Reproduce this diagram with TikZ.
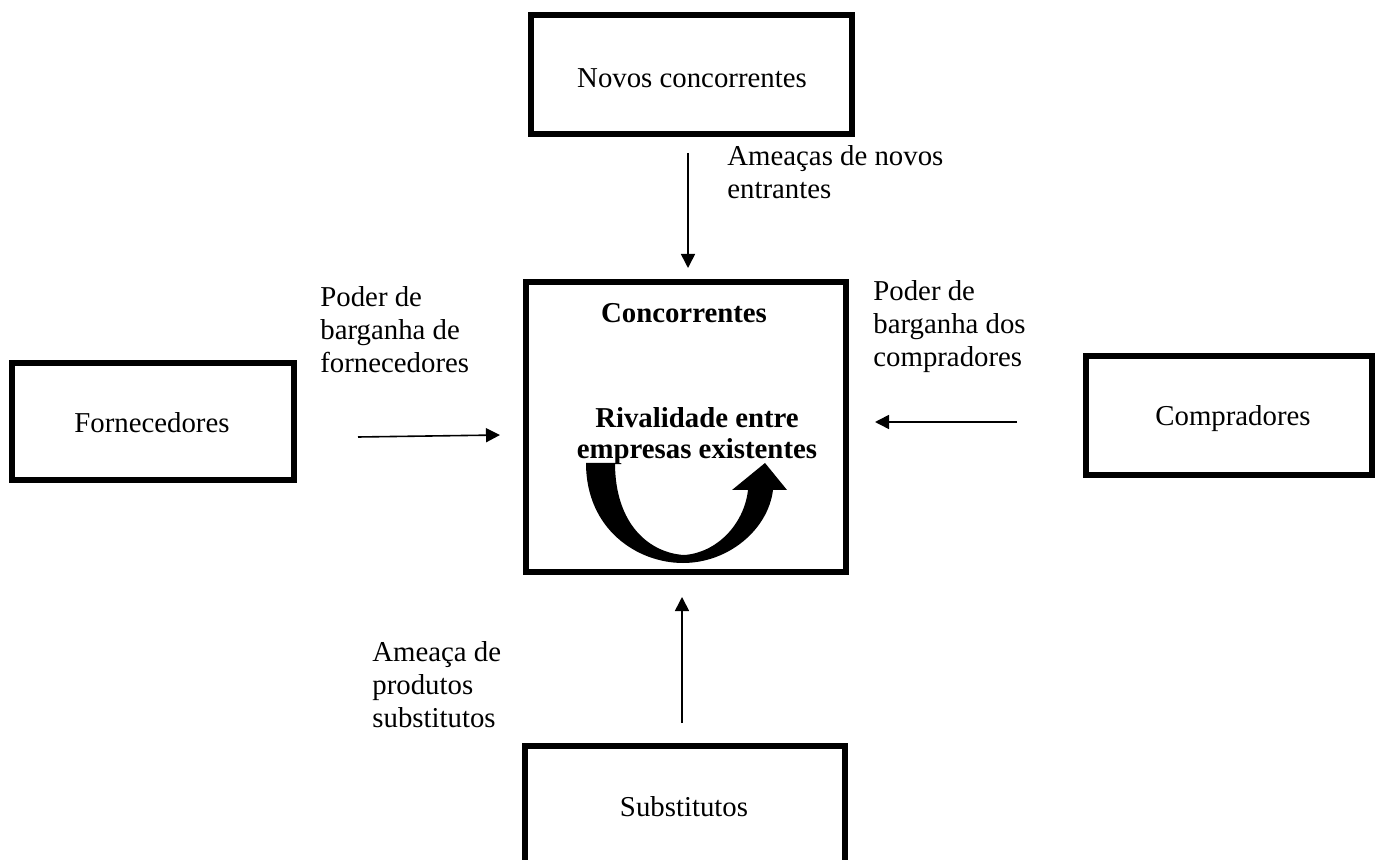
\documentclass[tikz,border=0pt]{standalone}
\usepackage{fontspec}
\setmainfont{Liberation Serif}
\usetikzlibrary{arrows.meta}
\begin{document}
\begin{tikzpicture}[x=0.5pt,y=-0.5pt,
  forcebox/.style={draw=black,line width=3pt,inner sep=0pt,outer sep=0pt,fill=white},
  lbl/.style={align=left,inner sep=0pt,anchor=base west,font=\fontsize{14.4}{16.5}\selectfont},
  boxtext/.style={inner sep=0pt,font=\fontsize{14.4}{16.5}\selectfont},
  force/.style={line width=0.8pt,-{Triangle[length=7pt,width=7pt]}}]
\useasboundingbox (0,0) rectangle (1375,860);
\clip (0,0) rectangle (1375,860);
% boxes
\node[forcebox,minimum width=160.5pt,minimum height=59.5pt] (novos) at (691.5,74.5) {};
\node[boxtext] (novosT) at (692,78) {Novos concorrentes};
\node[forcebox,minimum width=160pt,minimum height=145pt] (conc) at (686,427) {};
\node[boxtext,font=\fontsize{14.4}{15.5}\selectfont\bfseries] (concT) at (684,313) {Concorrentes};
\node[boxtext,align=center,font=\fontsize{14.4}{15.5}\selectfont\bfseries] (rival) at (697,436) {Rivalidade entre\\empresas existentes};
\node[forcebox,minimum width=141pt,minimum height=58.5pt] (forn) at (153,421.5) {};
\node[boxtext] (fornT) at (152,423) {Fornecedores};
\node[forcebox,minimum width=143pt,minimum height=59.5pt] (comp) at (1229,415.5) {};
\node[boxtext] (compT) at (1233,419) {Compradores};
\node[forcebox,minimum width=160pt,minimum height=62pt] (subs) at (685,808) {};
\node[boxtext] (subsT) at (684,807) {Substitutos};
% connector end points
\coordinate (nA) at (688,153);
\coordinate (nB) at (688,268);
\coordinate (fA) at (358,437);
\coordinate (fB) at (500,435);
\coordinate (cA) at (1017,422);
\coordinate (cB) at (875,422);
\coordinate (sA) at (682,723);
\coordinate (sB) at (682,597);
\draw[force] (nA) -- (nB);
\draw[force] (fA) -- (fB);
\draw[force] (cA) -- (cB);
\draw[force] (sA) -- (sB);
% labels (anchor = baseline of last line)
\node[lbl] (lblN) at (727,199) {Ameaças de novos\\entrantes};
\node[lbl] (lblF) at (320,373) {Poder de\\barganha de\\fornecedores};
\node[lbl] (lblC) at (873,367) {Poder de\\barganha dos\\compradores};
\node[lbl] (lblS) at (372,727) {Ameaça de\\produtos\\substitutos};
% curved rivalry arrow
\fill[black] (586,463) .. controls (586,530) and (638,563) .. (683,563)
  .. controls (728,563) and (768,530) .. (773,490)
  -- (787,490) -- (765,463) -- (732,490) -- (748,490)
  .. controls (744,525) and (716,553) .. (684,555)
  .. controls (650,553) and (615,525) .. (615,463) -- cycle;
\end{tikzpicture}
\end{document}
